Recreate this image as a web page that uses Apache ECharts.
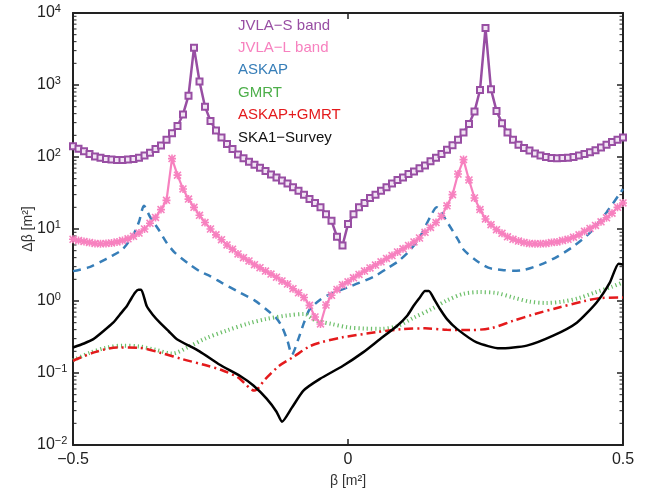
<!DOCTYPE html>
<html>
<head>
<meta charset="utf-8">
<script src="https://cdn.jsdelivr.net/npm/echarts@6/dist/echarts.min.js"></script>
<style>
  html, body { margin: 0; padding: 0; background: #fff; }
  #main { width: 665px; height: 493px; }
</style>
</head>
<body>
<div id="main"></div>
<script>
// beta grid shared by the two JVLA curves (step 0.01)
var beta = [];
for (var i = 0; i <= 100; i++) beta.push(Math.round((-0.5 + i * 0.01) * 100) / 100);

var jvlaS = [
  141, 130, 120, 110, 102, 98, 94, 92, 91, 91,
  92, 94, 98, 105, 115, 129, 145, 174, 214, 270,
  390, 710, 3300, 1120, 500, 316, 234, 186, 151, 129,
  108, 96, 86, 78, 71, 64, 57, 52, 47, 43,
  38, 34, 30, 26, 23, 20, 16, 13, 7.8, 5.9,
  11.7, 16, 20, 23, 27, 30, 34, 38, 43, 48,
  52, 58, 63, 70, 76, 87, 98, 110, 126, 146,
  174, 219, 288, 427, 851, 6170, 871, 437, 295, 219,
  174, 148, 133, 123, 112, 105, 100, 97, 96, 97,
  98, 100, 105, 110, 116, 124, 135, 148, 162, 174, 186
];

var jvlaL = [
  7.2, 6.9, 6.7, 6.5, 6.3, 6.25, 6.3, 6.4, 6.6, 6.9,
  7.3, 7.9, 8.8, 10, 12, 14.5, 18.6, 25, 95, 56,
  36, 26, 20, 15.5, 12.3, 10, 8.3, 7.1, 6.0, 5.25,
  4.5, 4.0, 3.6, 3.2, 2.9, 2.6, 2.37, 2.14, 1.9, 1.72,
  1.48, 1.3, 1.12, 0.87, 0.6, 0.48, 0.88, 1.2, 1.45, 1.68,
  1.85, 2.1, 2.34, 2.6, 2.88, 3.16, 3.5, 3.9, 4.27, 4.8,
  5.3, 5.9, 6.6, 7.5, 9.0, 10.5, 12.3, 15, 21, 30,
  58, 92, 48, 27, 18.6, 13.8, 11.5, 9.8, 8.7, 7.8,
  7.2, 6.8, 6.5, 6.3, 6.25, 6.25, 6.3, 6.5, 6.6, 6.9,
  7.2, 7.7, 8.3, 9.3, 10.2, 11.2, 12.6, 14.3, 16.6, 20, 23
];

var askapX = [-0.5, -0.47, -0.45, -0.43, -0.41, -0.39, -0.38, -0.371, -0.36, -0.345, -0.33, -0.315,
  -0.29, -0.27, -0.25, -0.23, -0.2, -0.17, -0.15, -0.13, -0.12, -0.11, -0.102, -0.09, -0.08, -0.07,
  -0.05, -0.03, 0, 0.02, 0.05, 0.07, 0.09, 0.11, 0.13, 0.15, 0.161, 0.18, 0.2, 0.21, 0.23, 0.255,
  0.28, 0.3, 0.32, 0.35, 0.38, 0.41, 0.44, 0.47, 0.5];
var askapY = [2.6, 2.95, 3.5, 4.2, 5.2, 8.4, 12.6, 21, 14.8, 10, 6.5, 4.7,
  3.3, 2.6, 2.2, 1.8, 1.35, 1.02, 0.78, 0.575, 0.44, 0.28, 0.18, 0.3, 0.5, 0.76,
  1.05, 1.27, 1.55, 1.78, 2.24, 2.8, 3.5, 4.8, 7.6, 15, 20, 12.6, 7.1, 5.2, 3.8, 2.9,
  2.7, 2.63, 2.7, 3.2, 4.1, 5.75, 8.9, 17, 36];

var gmrtX = [-0.5, -0.47, -0.44, -0.41, -0.38, -0.35, -0.32, -0.29, -0.26, -0.22, -0.18, -0.15,
  -0.11, -0.08, -0.06, -0.03, 0.0, 0.03, 0.06, 0.09, 0.12, 0.15, 0.18, 0.21, 0.24, 0.27,
  0.30, 0.33, 0.36, 0.39, 0.42, 0.45, 0.48, 0.5];
var gmrtY = [0.15, 0.19, 0.224, 0.24, 0.234, 0.21, 0.186, 0.23, 0.30, 0.39, 0.49, 0.56,
  0.63, 0.66, 0.54, 0.48, 0.43, 0.415, 0.41, 0.45, 0.59, 0.76, 1.02, 1.26, 1.33, 1.29,
  1.12, 0.98, 0.94, 0.98, 1.1, 1.32, 1.58, 1.82];

var comboX = [-0.5, -0.46, -0.42, -0.38, -0.34, -0.30, -0.26, -0.23, -0.20, -0.17, -0.15, -0.125,
  -0.10, -0.07, -0.05, -0.01, 0.05, 0.10, 0.14, 0.18, 0.22, 0.26, 0.30, 0.34, 0.38, 0.43, 0.46, 0.50];
var comboY = [0.148, 0.195, 0.226, 0.224, 0.19, 0.155, 0.129, 0.11, 0.087, 0.057, 0.083, 0.126,
  0.166, 0.234, 0.266, 0.313, 0.367, 0.407, 0.417, 0.398, 0.394, 0.42, 0.53, 0.66, 0.80, 1.0, 1.1, 1.12];

var skaX = [-0.5, -0.48, -0.463, -0.445, -0.427, -0.415, -0.402, -0.395, -0.387, -0.381, -0.376,
  -0.366, -0.355, -0.342, -0.326, -0.311, -0.27, -0.233,
  -0.196, -0.172, -0.148, -0.13, -0.12, -0.102, -0.081, -0.051, -0.009, 0.028, 0.058, 0.089, 0.108,
  0.119, 0.13, 0.14, 0.147, 0.157, 0.167, 0.18, 0.198, 0.234, 0.276, 0.325, 0.373, 0.416,
  0.452, 0.476, 0.492, 0.5];
var skaY = [0.226, 0.257, 0.295, 0.38, 0.5, 0.645, 0.85, 1.05, 1.31, 1.43, 1.43,
  0.85, 0.645, 0.5, 0.38, 0.295, 0.2, 0.13,
  0.091, 0.067, 0.044, 0.029, 0.021, 0.033, 0.057, 0.083, 0.126, 0.195, 0.295, 0.45, 0.63,
  0.85, 1.1, 1.38, 1.38, 1.05, 0.78, 0.56, 0.41, 0.266, 0.22, 0.24, 0.33, 0.5,
  0.955, 1.8, 3.3, 3.2];

var names = ['JVLA\u2212S band', 'JVLA\u2212L band', 'ASKAP', 'GMRT', 'ASKAP+GMRT', 'SKA1\u2212Survey'];
var colors = ['#984ea3', '#f781bf', '#377eb8', '#4daf4a', '#e41a1c', '#111111'];

// minor log ticks (2..9 x 10^n)
var minorTicks = [];
for (var n = -2; n < 4; n++) {
  for (var k = 2; k <= 9; k++) minorTicks.push([-0.5, k * Math.pow(10, n)]);
}

function pairs(xs, ys) {
  return xs.map(function (x, i) { return [x, ys[i]]; });
}

var FONT = 'Liberation Sans';
var asterisk = 'path://M4,0L6,0L6,10L4,10ZM0,4L10,4L10,6L0,6ZM1.4,0L10,8.6L8.6,10L0,1.4ZM8.6,0L10,1.4L1.4,10L0,8.6Z';

var myChart = echarts.init(document.getElementById('main'));

var frameLine = { show: true, onZero: false, lineStyle: { color: '#222', width: 2 } };
var tickStyle = { show: true, inside: true, length: 6, lineStyle: { color: '#222', width: 1.5 } };

var option = {
  animation: false,
  backgroundColor: '#fff',
  grid: { left: 73, right: 42, top: 13, bottom: 47 },
  legend: {
    orient: 'vertical',
    left: 228,
    top: 13,
    icon: 'none',
    itemWidth: 0,
    itemHeight: 14,
    itemGap: 7.4,
    selectedMode: false,
    textStyle: { fontFamily: FONT, fontSize: 15 },
    data: names.map(function (nm, i) {
      return { name: nm, textStyle: { color: colors[i] } };
    })
  },
  xAxis: [
    {
      type: 'value', min: -0.5, max: 0.5, interval: 0.5,
      name: '\u03b2 [m\u00b2]', nameLocation: 'middle', nameGap: 29, nameMoveOverlap: false,
      nameTextStyle: { fontFamily: FONT, fontSize: 14, color: '#333' },
      axisLine: frameLine,
      axisTick: tickStyle,
      axisLabel: {
        margin: 7, fontFamily: FONT, fontSize: 16, color: '#222',
        formatter: function (v) { return v < 0 ? '\u2212' + String(-v) : String(v); }
      },
      splitLine: { show: false }
    },
    {
      type: 'value', min: -0.5, max: 0.5, interval: 0.5, position: 'top',
      axisLine: frameLine,
      axisTick: tickStyle,
      axisLabel: { show: false },
      splitLine: { show: false }
    }
  ],
  yAxis: [
    {
      type: 'log', logBase: 10, min: 0.01, max: 10000,
      name: '\u0394\u03b2 [m\u00b2]', nameLocation: 'middle', nameGap: 38, nameRotate: 90,
      nameMoveOverlap: false,
      nameTextStyle: { fontFamily: FONT, fontSize: 14, color: '#333' },
      axisLine: frameLine,
      axisTick: tickStyle,
      axisLabel: {
        margin: 36, align: 'left', color: '#222',
        formatter: function (v) {
          var e = Math.round(Math.log10(v));
          return '{b|10}{s|' + (e < 0 ? '\u2212' + (-e) : e) + '}';
        },
        rich: {
          b: { fontFamily: FONT, fontSize: 16, color: '#222', lineHeight: 20 },
          s: { fontFamily: FONT, fontSize: 11, color: '#222', verticalAlign: 'top' }
        }
      },
      splitLine: { show: false }
    },
    {
      type: 'log', logBase: 10, min: 0.01, max: 10000, position: 'right',
      axisLine: frameLine,
      axisTick: tickStyle,
      axisLabel: { show: false },
      splitLine: { show: false }
    }
  ],
  series: [
    {
      name: 'minor', type: 'custom', silent: true, z: 1,
      data: minorTicks,
      renderItem: function (params, api) {
        var pL = api.coord([-0.5, api.value(1)]);
        var pR = api.coord([0.5, api.value(1)]);
        return {
          type: 'group',
          children: [
            { type: 'line', shape: { x1: pL[0], y1: pL[1], x2: pL[0] + 3.5, y2: pL[1] }, style: { stroke: '#222', lineWidth: 1 } },
            { type: 'line', shape: { x1: pR[0], y1: pR[1], x2: pR[0] - 3.5, y2: pR[1] }, style: { stroke: '#222', lineWidth: 1 } }
          ]
        };
      }
    },
    {
      name: names[0], type: 'line', z: 3,
      data: pairs(beta, jvlaS),
      symbol: 'rect', symbolSize: 6,
      itemStyle: { color: '#f1e4f3', borderColor: colors[0], borderWidth: 2 },
      lineStyle: { color: colors[0], width: 2.5 }
    },
    {
      name: names[1], type: 'line', z: 3,
      data: pairs(beta, jvlaL),
      symbol: asterisk, symbolSize: 8,
      itemStyle: { color: colors[1] },
      lineStyle: { color: colors[1], width: 2.2 }
    },
    {
      name: names[2], type: 'line', showSymbol: false, smooth: 0.25,
      data: pairs(askapX, askapY),
      itemStyle: { color: colors[2] },
      lineStyle: { color: colors[2], width: 2.5, type: [8, 6] }
    },
    {
      name: names[3], type: 'line', showSymbol: false, smooth: 0.3,
      data: pairs(gmrtX, gmrtY),
      itemStyle: { color: colors[3] },
      lineStyle: { color: '#6dbf6a', width: 4, type: [1.2, 3], cap: 'butt' }
    },
    {
      name: names[4], type: 'line', showSymbol: false, smooth: 0.3,
      data: pairs(comboX, comboY),
      itemStyle: { color: colors[4] },
      lineStyle: { color: colors[4], width: 2.5, type: [9, 4, 2, 4] }
    },
    {
      name: names[5], type: 'line', showSymbol: false, smooth: 0.2,
      data: pairs(skaX, skaY),
      itemStyle: { color: '#000' },
      lineStyle: { color: '#000', width: 2.5 }
    }
  ]
};

myChart.setOption(option);
</script>
</body>
</html>
